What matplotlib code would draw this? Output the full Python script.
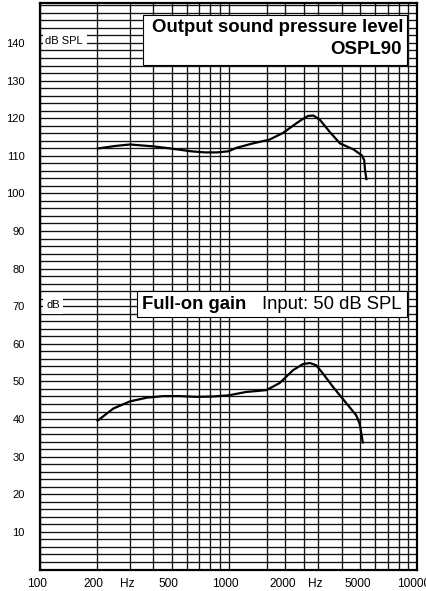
import matplotlib
matplotlib.use("Agg")
import matplotlib.pyplot as plt
import matplotlib.transforms as mtrans
from matplotlib.patches import Rectangle

plt.rcParams['font.family'] = ['Liberation Sans', 'DejaVu Sans']

# ---- data ----
ospl_freq = [200, 250, 300, 400, 500, 630, 750, 870, 1000, 1100, 1350, 1650,
             1950, 2300, 2500, 2650, 2820, 3050, 3450, 3900, 4600, 5100, 5250,
             5300, 5400]
ospl_db = [111.9, 112.6, 113.0, 112.5, 111.9, 111.2, 110.9, 110.9, 111.2,
           112.1, 113.3, 114.3, 116.1, 118.7, 119.9, 120.6, 120.7, 119.6,
           116.3, 113.3, 111.7, 110.1, 108.8, 106.2, 103.5]

gain_freq = [200, 245, 300, 370, 450, 550, 680, 830, 1000, 1240, 1590, 1870,
             2200, 2480, 2700, 2920, 3170, 3590, 4050, 4760, 4960, 5170]
gain_db = [39.4, 42.8, 44.7, 45.7, 46.1, 46.1, 45.9, 46.0, 46.3, 47.2, 47.7,
           49.6, 53.0, 54.6, 54.9, 54.3, 52.1, 48.5, 45.3, 41.0, 38.8, 33.5]

x_tick_pos = [100, 200, 300, 500, 1000, 2000, 3000, 5000, 10000]
x_tick_lab = ["100", "200", "Hz", "500", "1000", "2000", "Hz", "5000", "10000"]
y_tick_pos = list(range(10, 141, 10))

x_grid = list(range(100, 1001, 100)) + [1600, 2000, 2500, 3000] + list(range(4000, 10001, 1000))
y_grid = list(range(2, 151, 2))

W, H = 426, 591
fig = plt.figure(figsize=(W / 100, H / 100), dpi=100)
L, R, T, B = 40, 417, 2.7, 569.5
ax = fig.add_axes([L / W, 1 - B / H, (R - L) / W, (B - T) / H])
ax.set_xscale('log')
ax.set_xlim(100, 10000)
ax.set_ylim(0, 150.7)

gc = '#111111'
ax.vlines(x_grid, 0, 150.7, colors=gc, lw=0.95, zorder=1)
ax.hlines(y_grid, 100, 10000, colors=gc, lw=0.95, zorder=1)

ax.plot(ospl_freq, ospl_db, color='black', lw=1.6, zorder=3,
        solid_capstyle='butt', solid_joinstyle='round')
ax.plot(gain_freq, gain_db, color='black', lw=1.6, zorder=3,
        solid_capstyle='butt', solid_joinstyle='round')

ax.minorticks_off()
ax.set_xticks(x_tick_pos)
ax.set_xticklabels(x_tick_lab)
ax.xaxis.set_minor_locator(matplotlib.ticker.NullLocator())
ax.set_yticks(y_tick_pos)
ax.set_yticklabels([str(v) for v in y_tick_pos])
ax.tick_params(axis='y', length=0, pad=11, labelsize=8)
ax.tick_params(axis='x', length=0, pad=6, labelsize=8.6)
shift = mtrans.ScaledTranslation(-3 / 100, 0, fig.dpi_scale_trans)
for lab in ax.get_xticklabels():
    lab.set_transform(lab.get_transform() + shift)
for s in ax.spines.values():
    s.set_linewidth(1.6)
    s.set_color('black')


def fx(px):
    return px / W


def fy(py):
    return 1 - py / H


def box(x0, y0, x1, y1, edge=True):
    r = Rectangle((fx(x0), fy(y1)), fx(x1) - fx(x0), fy(y0) - fy(y1),
                  transform=fig.transFigure, facecolor='white',
                  edgecolor='black' if edge else 'none', lw=0.8, zorder=5)
    fig.add_artist(r)


# small unit labels
box(43, 31.5, 87, 48.8, edge=False)
fig.text(fx(64), fy(41.5), "dB SPL", ha='center', va='center', fontsize=8, zorder=6)
box(43, 296.5, 63, 314.5, edge=False)
fig.text(fx(53), fy(305), "dB", ha='center', va='center', fontsize=8, zorder=6)

# title boxes
box(143.3, 15, 407.3, 65)
fig.text(fx(403), fy(27), "Output sound pressure level", ha='right', va='center',
         fontsize=13.4, fontweight='bold', zorder=6)
fig.text(fx(402), fy(50), "OSPL90", ha='right', va='center',
         fontsize=13.4, fontweight='bold', zorder=6)

box(136.7, 290.7, 407.3, 317.3)
fig.text(fx(141.7), fy(304.5), "Full-on gain", ha='left', va='center',
         fontsize=13.3, fontweight='bold', zorder=6)
fig.text(fx(401.3), fy(304.5), "Input: 50 dB SPL", ha='right', va='center',
         fontsize=13.3, zorder=6)

fig.savefig("out.png", dpi=100)
